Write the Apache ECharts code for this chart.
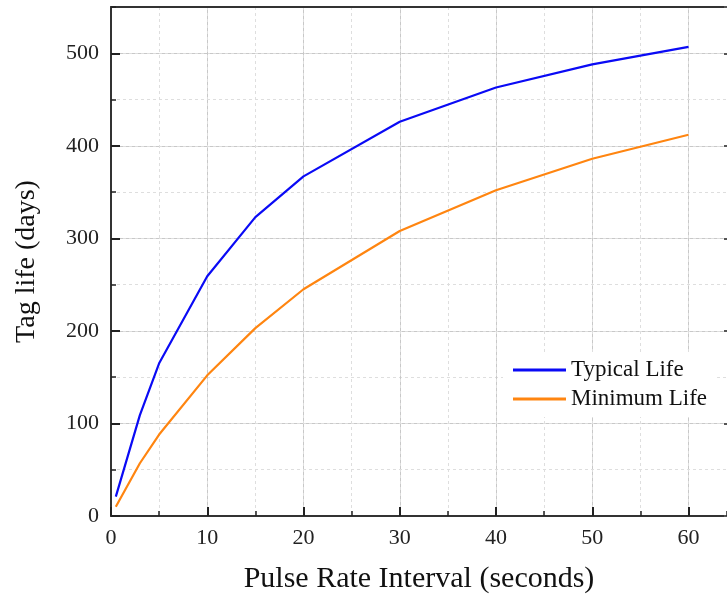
<!DOCTYPE html>
<html>
<head>
<meta charset="utf-8">
<title>Tag life</title>
<script src="https://cdn.jsdelivr.net/npm/echarts@6/dist/echarts.min.js"></script>
<style>
  html, body { margin: 0; padding: 0; background: #fff; }
  #chart { width: 727px; height: 599px; }
</style>
</head>
<body>
<div id="chart"></div>
<script>
// values
var pulseInterval = [0.5, 3, 5, 10, 15, 20, 30, 40, 50, 60];
var typicalLife = [21, 109, 165, 259, 323, 367, 426, 463, 488, 507];
var minimumLife = [10, 57, 88, 152, 203, 245, 308, 352, 386, 412];
var seriesNames = ['Typical Life', 'Minimum Life'];

function pairs(xs, ys) {
  return xs.map(function (x, i) { return [x, ys[i]]; });
}

var serif = '"Liberation Serif", "Times New Roman", serif';
var chart = echarts.init(document.getElementById('chart'));

var X_MAX = 64, Y_MAX = 550;

var option = {
  animation: false,
  textStyle: { fontFamily: serif },
  grid: { left: 111, top: 7, right: 0, bottom: 83 },
  legend: {
    data: seriesNames,
    orient: 'vertical',
    left: 503, top: 352,
    padding: [6, 10, 6, 10],
    backgroundColor: '#fff',
    icon: 'rect',
    itemWidth: 53, itemHeight: 3, itemGap: 5,
    textStyle: { fontFamily: serif, fontSize: 23, lineHeight: 24, color: '#111' }
  },
  xAxis: [{
    type: 'value', min: 0, max: X_MAX, interval: 10, position: 'bottom',
    name: 'Pulse Rate Interval (seconds)', nameLocation: 'middle', nameGap: 48,
    nameTextStyle: { fontFamily: serif, fontSize: 30, color: '#111' },
    axisLine: { show: true, onZero: false, lineStyle: { color: '#333', width: 2 } },
    axisTick: { show: true, inside: true, length: 9, lineStyle: { color: '#222', width: 2 } },
    axisLabel: { fontFamily: serif, fontSize: 22, color: '#222', margin: 11, showMaxLabel: false },
    splitLine: { show: true, lineStyle: { color: '#c8c8c8', width: 1 } }
  }, {
    type: 'value', min: 0, max: X_MAX, interval: 5, position: 'bottom',
    axisLine: { show: false, onZero: false },
    axisTick: { show: true, inside: true, length: 5, lineStyle: { color: '#222', width: 1.5 } },
    axisLabel: { show: false },
    splitLine: { show: true, lineStyle: { color: '#dedede', width: 1, type: [3, 3] } }
  }, {
    // top frame line
    type: 'value', min: 0, max: X_MAX, position: 'top',
    axisLine: { show: true, onZero: false, lineStyle: { color: '#333', width: 2 } },
    axisTick: { show: false }, axisLabel: { show: false }, splitLine: { show: false }
  }],
  yAxis: [{
    type: 'value', min: 0, max: Y_MAX, interval: 100, position: 'left',
    name: 'Tag life (days)', nameLocation: 'middle', nameGap: 70,
    nameTextStyle: { fontFamily: serif, fontSize: 28, color: '#111' },
    axisLine: { show: true, onZero: false, lineStyle: { color: '#333', width: 2 } },
    axisTick: { show: true, inside: true, length: 9, lineStyle: { color: '#222', width: 2 } },
    axisLabel: { fontFamily: serif, fontSize: 22, color: '#222', margin: 12, showMaxLabel: false },
    splitLine: { show: true, lineStyle: { color: '#c8c8c8', width: 1 } }
  }, {
    type: 'value', min: 0, max: Y_MAX, interval: 50, position: 'left',
    axisLine: { show: false, onZero: false },
    axisTick: { show: true, inside: true, length: 5, lineStyle: { color: '#222', width: 1.5 } },
    axisLabel: { show: false },
    splitLine: { show: true, lineStyle: { color: '#dedede', width: 1, type: [3, 3] } }
  }, {
    // right frame ticks
    type: 'value', min: 0, max: Y_MAX, interval: 100, position: 'right',
    axisLine: { show: false, onZero: false },
    axisTick: { show: true, inside: true, length: 3, lineStyle: { color: '#555', width: 2 } },
    axisLabel: { show: false }, splitLine: { show: false }
  }],
  series: [{
    name: seriesNames[0], type: 'line', xAxisIndex: 0, yAxisIndex: 0,
    symbol: 'none', z: 5,
    lineStyle: { color: '#0a0af5', width: 2.2 },
    itemStyle: { color: '#0a0af5' },
    data: pairs(pulseInterval, typicalLife)
  }, {
    name: seriesNames[1], type: 'line', xAxisIndex: 0, yAxisIndex: 0,
    symbol: 'none', z: 5,
    lineStyle: { color: '#ff8510', width: 2.2 },
    itemStyle: { color: '#ff8510' },
    data: pairs(pulseInterval, minimumLife)
  }]
};
chart.setOption(option);
</script>
</body>
</html>
